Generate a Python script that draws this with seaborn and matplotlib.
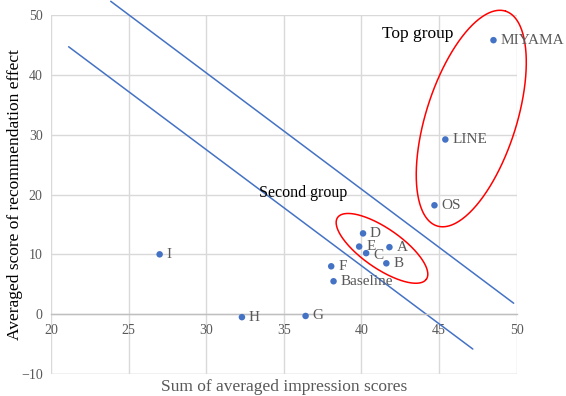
import numpy as np
import pandas as pd
import matplotlib
matplotlib.use("Agg")
import matplotlib.pyplot as plt
import seaborn as sns

# --- data ---
names = ["MIYAMA", "LINE", "OS", "D", "E", "C", "A", "B", "F", "Baseline", "G", "H", "I"]
impression = [48.5, 45.4, 44.7, 40.1, 39.85, 40.3, 41.8, 41.6, 38.05, 38.2, 36.4, 32.3, 27.0]
effect = [45.8, 29.2, 18.2, 13.5, 11.3, 10.2, 11.2, 8.5, 8.0, 5.5, -0.3, -0.5, 10.0]

# the two separating lines
line1_x = [21.14, 47.17]
line1_y = [44.7, -5.83]
line2_x = [23.85, 49.8]
line2_y = [52.3, 1.83]

x_ticks = [20, 25, 30, 35, 40, 45, 50]
y_ticks = [-10, 0, 10, 20, 30, 40, 50]

df = pd.DataFrame({"name": names, "x": impression, "y": effect})

sns.set_style("white")
plt.rcParams["font.family"] = ["Liberation Serif", "DejaVu Serif"]

fig = plt.figure(figsize=(5.66, 3.96), dpi=100)
ax = fig.add_axes([0.090, 0.0556, 0.823, 0.9064])

BLUE = "#4472C4"
GRID = "#D9D9D9"

ax.set_xlim(20, 50)
ax.set_ylim(-10, 50)
ax.set_xticks(x_ticks)
ax.set_yticks(y_ticks)
ax.grid(True, color=GRID, linewidth=1.0)
ax.set_axisbelow(True)

for s in ["top", "right", "left"]:
    ax.spines[s].set_visible(False)
ax.spines["bottom"].set_position(("data", 0))
ax.spines["bottom"].set_color("#BFBFBF")
ax.spines["bottom"].set_linewidth(1.0)
# bottom frame line at -10
ax.axhline(-10, color=GRID, linewidth=1.0, zorder=0)

ax.tick_params(axis="both", length=0, labelsize=10, labelcolor="#595959")
ax.tick_params(axis="x", pad=7)
ax.tick_params(axis="y", pad=6)

# separating lines
ax.plot(line1_x, line1_y, color=BLUE, linewidth=1.1, clip_on=False)
ax.plot(line2_x, line2_y, color=BLUE, linewidth=1.1, clip_on=False)

sns.scatterplot(data=df, x="x", y="y", ax=ax, color=BLUE, s=22,
                edgecolor="none", zorder=3, clip_on=False)

for n, xv, yv in zip(names, impression, effect):
    dy = -1.5 if n == "C" else 0
    ax.annotate(n, (xv, yv), xytext=(5, dy), textcoords="offset points",
                ha="left", va="center", fontsize=11, color="#595959")

# group ellipses (centre, semi-axis vectors in data units)
t = np.linspace(0, 2 * np.pi, 300)
def ellipse(cx, cy, ax_vec, bx_vec):
    ex = cx + ax_vec[0] * np.cos(t) + bx_vec[0] * np.sin(t)
    ey = cy + ax_vec[1] * np.cos(t) + bx_vec[1] * np.sin(t)
    return ex, ey

ex, ey = ellipse(47.07, 32.7, (2.21, 17.95), (2.77, -2.29))
ax.plot(ex, ey, color="#FF0000", linewidth=1.1, clip_on=False)
ex, ey = ellipse(41.32, 11.0, (2.86, -5.15), (-0.73, -2.74))
ax.plot(ex, ey, color="#FF0000", linewidth=1.1, clip_on=False)

ax.text(43.6, 46.8, "Top group", fontsize=12.5, color="black", ha="center", va="center")
ax.text(36.25, 20.2, "Second group", fontsize=11.5, color="black", ha="center", va="center")

ax.set_xlabel("Sum of averaged impression scores", fontsize=12.5, color="#595959")
ax.set_ylabel("Averaged score of recommendation effect", fontsize=12.5, color="black")
ax.xaxis.set_label_coords(0.5, -0.015)
ax.yaxis.set_label_coords(-0.06, 0.5)

fig.savefig("out.png", dpi=100)
